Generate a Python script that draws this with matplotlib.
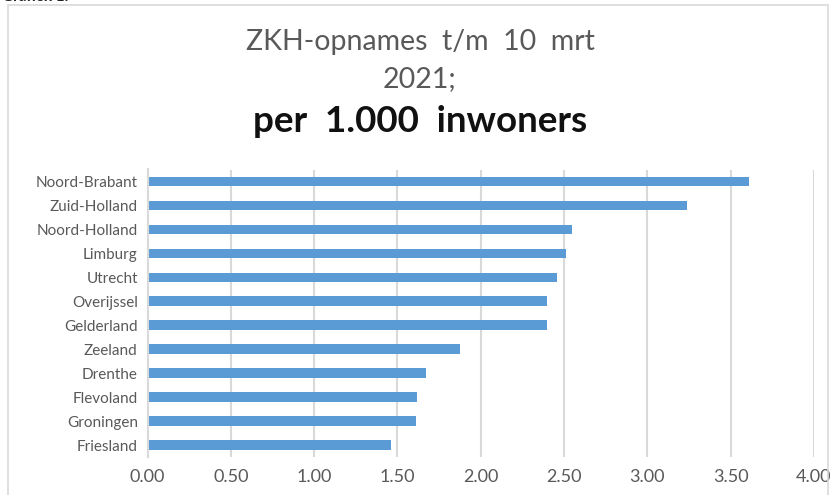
import matplotlib
matplotlib.use("Agg")
import matplotlib.pyplot as plt
from matplotlib.patches import Rectangle

provinces = ["Noord-Brabant", "Zuid-Holland", "Noord-Holland", "Limburg", "Utrecht",
             "Overijssel", "Gelderland", "Zeeland", "Drenthe", "Flevoland",
             "Groningen", "Friesland"]
values = [3.61, 3.24, 2.55, 2.51, 2.46, 2.40, 2.395, 1.875, 1.67, 1.615, 1.61, 1.46]
xticks = [0.0, 0.5, 1.0, 1.5, 2.0, 2.5, 3.0, 3.5, 4.0]

W, H = 832, 495
plt.rcParams['font.family'] = ['Lato', 'DejaVu Sans']
fig = plt.figure(figsize=(W / 100, H / 100), dpi=100)
fig.patch.set_facecolor('white')

# outer frame
fig.patches.append(Rectangle((8 / W, -0.05), (828 - 8) / W, (495 - 5) / H + 0.05,
                             transform=fig.transFigure, fill=False,
                             edgecolor='#d9d9d9', linewidth=1.2))
fig.text(2 / W, 1 - 4 / H, "Grafiek 1.", fontsize=11, fontweight='bold',
         color='#222222', va='bottom', ha='left')

left, right = 147.5, 814
top, bottom = 169.5, 457
ax = fig.add_axes([left / W, 1 - bottom / H, (right - left) / W, (bottom - top) / H])

y = list(range(len(provinces)))
ax.barh(y, values, height=0.4, color='#5B9BD5', zorder=3)
ax.set_xlim(0, 4)
ax.set_ylim(len(provinces) - 0.5, -0.5)
ax.set_yticks(y)
ax.set_yticklabels(provinces, fontsize=11, color='#595959')
ax.set_xticks(xticks)
ax.set_xticklabels([f"{t:.2f}" for t in xticks], fontsize=13, color='#595959')
ax.tick_params(axis='y', length=0, pad=7)
ax.tick_params(axis='x', length=0, pad=9)
ax.grid(axis='x', color='#d9d9d9', linewidth=1.5, zorder=0)
for s in ['top', 'right', 'bottom']:
    ax.spines[s].set_visible(False)
ax.spines['left'].set_color('#d9d9d9')
ax.spines['left'].set_linewidth(1.5)
ax.spines['left'].set_zorder(4)

cx = 420 / W
fig.text(cx, 1 - 42 / H, "ZKH-opnames  t/m  10  mrt", fontsize=20.5, color='#595959',
         ha='center', va='center')
fig.text(cx, 1 - 79 / H, "2021;", fontsize=20.5, color='#595959',
         ha='center', va='center')
fig.text(cx, 1 - 121 / H, "per  1.000  inwoners", fontsize=26.5, fontweight='bold',
         color='#111111', ha='center', va='center')

fig.savefig("out.png", dpi=100, facecolor='white')
